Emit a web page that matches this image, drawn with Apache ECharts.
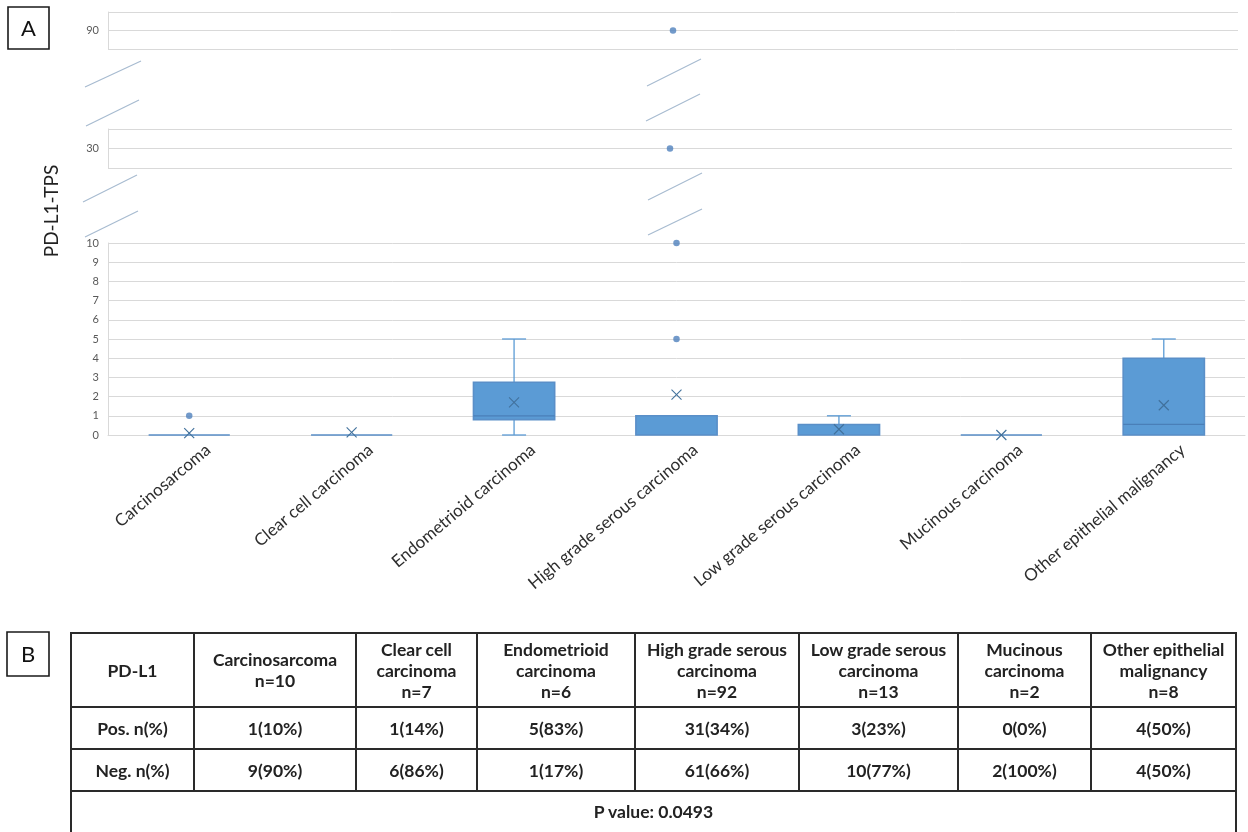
<!DOCTYPE html>
<html>
<head>
<meta charset="utf-8">
<script src="https://cdn.jsdelivr.net/npm/echarts@6/dist/echarts.min.js"></script>
<style>
  html, body { margin: 0; padding: 0; background: #ffffff; }
  #chart { position: absolute; left: 0; top: 0; width: 1248px; height: 832px; }
  #tbl {
    position: absolute; left: 70px; top: 632px;
    border-collapse: collapse; table-layout: fixed;
    font-family: Lato, "Open Sans", sans-serif; font-weight: bold; font-size: 17.5px; color: #222;
  }
  #tbl td { border: 2px solid #2a2a2a; text-align: center; vertical-align: middle; padding: 0; line-height: 21px; }
</style>
</head>
<body>
<div id="chart"></div>
<table id="tbl"></table>
<script>
// ---- PD-L1 TPS by histological subtype ----
const categories = [
  'Carcinosarcoma', 'Clear cell carcinoma', 'Endometrioid carcinoma',
  'High grade serous carcinoma', 'Low grade serous carcinoma',
  'Mucinous carcinoma', 'Other epithelial malignancy'
];
// box-and-whisker summaries
const boxMin    = [0,   0,    0,    0,   0,    0, 0];
const boxQ1     = [0,   0,    0.8,  0,   0,    0, 0];
const boxMedian = [0,   0,    1,    0,   0,    0, 0.55];
const boxQ3     = [0,   0,    2.75, 1,   0.55, 0, 4];
const boxMax    = [0,   0,    5,    1,   1,    0, 5];
const boxMean   = [0.1, 0.14, 1.7,  2.1, 0.3,  0, 1.55];
// outliers (category index, TPS)
const outlierCat = [0, 3, 3, 3, 3];
const outlierVal = [1, 5, 10, 30, 90];
// value windows of the three stacked panels (broken axis)
const panelMin = [88, 28, 0];
const panelMax = [92, 32, 10];
const panelTicks = [[90], [30], [0, 1, 2, 3, 4, 5, 6, 7, 8, 9, 10]];

// ---- table B ----
const headFirst = 'PD-L1';
const headLines = [
  ['Carcinosarcoma'], ['Clear cell', 'carcinoma'], ['Endometrioid', 'carcinoma'],
  ['High grade serous', 'carcinoma'], ['Low grade serous', 'carcinoma'],
  ['Mucinous', 'carcinoma'], ['Other epithelial', 'malignancy']
];
const groupN   = [10, 7, 6, 92, 13, 2, 8];
const posCount = [1, 1, 5, 31, 3, 0, 4];
const posPct   = [10, 14, 83, 34, 23, 0, 50];
const negCount = [9, 6, 1, 61, 10, 2, 4];
const negPct   = [90, 86, 17, 66, 77, 100, 50];
const pValue   = '0.0493';

const FONT = 'Lato, "Open Sans", sans-serif';
const BOX_BLUE = '#5b9bd5';
const DARK_BLUE = '#41719c';
const GRID_GRAY = '#d9d9d9';

// grid geometry of the panels
const gridBoxes = [
  { left: 108, top: 12,  width: 1130, height: 37 },
  { left: 108, top: 129, width: 1124, height: 39 },
  { left: 108, top: 243, width: 1137, height: 192 }
];

const boxData = categories.map((c, i) => [i, boxMin[i], boxQ1[i], boxMedian[i], boxQ3[i], boxMax[i], boxMean[i]]);

function renderBox(params, api) {
  const i = api.value(0);
  const lo = api.value(1), q1 = api.value(2), med = api.value(3);
  const q3 = api.value(4), hi = api.value(5), mean = api.value(6);
  const band = api.size([1, 0])[0];
  const bw = band * 0.5;
  const cap = 24;
  const cx = api.coord([i, 0])[0];
  const py = v => api.coord([i, v])[1];
  const whisker = { stroke: BOX_BLUE, lineWidth: 1.3 };
  const kids = [];
  if (hi > q3) {
    kids.push({ type: 'line', shape: { x1: cx, y1: py(q3), x2: cx, y2: py(hi) }, style: whisker });
    kids.push({ type: 'line', shape: { x1: cx - cap / 2, y1: py(hi), x2: cx + cap / 2, y2: py(hi) }, style: whisker });
  }
  if (lo < q1) {
    kids.push({ type: 'line', shape: { x1: cx, y1: py(q1), x2: cx, y2: py(lo) }, style: whisker });
    kids.push({ type: 'line', shape: { x1: cx - cap / 2, y1: py(lo), x2: cx + cap / 2, y2: py(lo) }, style: whisker });
  }
  kids.push({
    type: 'rect',
    shape: { x: cx - bw / 2, y: py(q3), width: bw, height: py(q1) - py(q3) },
    style: { fill: BOX_BLUE, stroke: '#5a8fc8', lineWidth: 1.6 }
  });
  if (med > q1 && med < q3) {
    kids.push({ type: 'line', shape: { x1: cx - bw / 2, y1: py(med), x2: cx + bw / 2, y2: py(med) }, style: { stroke: '#4a7fb8', lineWidth: 1.2 } });
  }
  const my = py(mean), s = 5;
  const xs = { stroke: DARK_BLUE, lineWidth: 1.1 };
  kids.push({ type: 'line', shape: { x1: cx - s, y1: my - s, x2: cx + s, y2: my + s }, style: xs });
  kids.push({ type: 'line', shape: { x1: cx - s, y1: my + s, x2: cx + s, y2: my - s }, style: xs });
  return { type: 'group', children: kids };
}

const grids = gridBoxes.map(g => Object.assign({ containLabel: false }, g));

const xAxes = gridBoxes.map((g, k) => ({
  type: 'category', gridIndex: k, data: categories, boundaryGap: true,
  show: k === 2,
  axisLine: { show: true, lineStyle: { color: GRID_GRAY, width: 1 } },
  axisTick: { show: false },
  axisLabel: {
    interval: 0, rotate: 40, margin: -10,
    align: 'right', verticalAlign: 'top', lineHeight: 59,
    fontFamily: FONT, fontSize: 17, color: '#2e2e2e'
  },
  splitLine: { show: false }
}));

const yAxes = gridBoxes.map((g, k) => ({
  type: 'value', gridIndex: k, min: panelMin[k], max: panelMax[k],
  interval: k === 2 ? 1 : 2,
  axisLine: { show: true, lineStyle: { color: GRID_GRAY, width: 1 } },
  axisTick: { show: false },
  axisLabel: {
    margin: 9, fontFamily: FONT, fontSize: 11, color: '#595959',
    formatter: v => (panelTicks[k].indexOf(v) >= 0 ? String(v) : '')
  },
  splitLine: { show: true, lineStyle: { color: GRID_GRAY, width: 1 } }
}));

const outlierSeries = gridBoxes.map((g, k) => ({
  type: 'scatter', xAxisIndex: k, yAxisIndex: k, clip: false,
  symbol: 'circle', symbolSize: 6.5,
  itemStyle: { color: '#4f81bd' },
  data: outlierVal.map((v, j) => [outlierCat[j], v]).filter(p => p[1] >= panelMin[k] && p[1] <= panelMax[k]),
  z: 5
}));

// break marks between panels
const breakColor = '#a7bbd0';
const breakMarks = [
  [85, 87, 141, 61], [86, 126, 139, 100], [83, 202, 137, 175], [85, 237, 138, 211],
  [647, 86, 701, 59], [646, 121, 700, 94], [648, 200, 702, 173], [648, 235, 702, 209]
].map(s => ({
  type: 'line', shape: { x1: s[0], y1: s[1], x2: s[2], y2: s[3] },
  style: { stroke: breakColor, lineWidth: 1.2 }, silent: true
}));

const panelTag = (x, y, w, h, t) => ([
  { type: 'rect', shape: { x: x, y: y, width: w, height: h }, style: { fill: '#fff', stroke: '#1a1a1a', lineWidth: 1.6 } },
  { type: 'text', x: x + w / 2, y: y + h / 2 + 1, style: { text: t, font: '22px ' + FONT, fill: '#111', align: 'center', verticalAlign: 'middle' } }
]);

const chart = echarts.init(document.getElementById('chart'), null, { renderer: 'canvas' });
chart.setOption({
  animation: false,
  backgroundColor: '#ffffff',
  grid: grids,
  xAxis: xAxes,
  yAxis: yAxes,
  series: [
    {
      type: 'custom', xAxisIndex: 2, yAxisIndex: 2,
      renderItem: renderBox, data: boxData, clip: false, z: 3
    }
  ].concat(outlierSeries),
  graphic: breakMarks
    .concat(panelTag(8, 7, 41, 42, 'A'))
    .concat(panelTag(7, 632, 42, 44, 'B'))
    .concat([{
      type: 'text', x: 52, y: 211, rotation: Math.PI / 2,
      style: { text: 'PD-L1-TPS', font: '19px ' + FONT, fill: '#222', align: 'center', verticalAlign: 'middle' }
    }])
});

// table B
const colWidths = [123, 162, 121, 158, 164, 159, 133, 145];
const tbl = document.getElementById('tbl');
let html = '<colgroup>' + colWidths.map(w => '<col style="width:' + w + 'px">').join('') + '</colgroup>';
html += '<tr style="height:74px"><td>' + headFirst + '</td>' +
  headLines.map((l, i) => '<td>' + l.concat(['n=' + groupN[i]]).join('<br>') + '</td>').join('') + '</tr>';
html += '<tr style="height:42px"><td>Pos. n(%)</td>' +
  posCount.map((c, i) => '<td>' + c + '(' + posPct[i] + '%)</td>').join('') + '</tr>';
html += '<tr style="height:42px"><td>Neg. n(%)</td>' +
  negCount.map((c, i) => '<td>' + c + '(' + negPct[i] + '%)</td>').join('') + '</tr>';
html += '<tr style="height:44px"><td colspan="8" style="padding-bottom:4px">P value: ' + pValue + '</td></tr>';
tbl.innerHTML = html;
tbl.style.width = colWidths.reduce((a, b) => a + b, 0) + 'px';
</script>
</body>
</html>
